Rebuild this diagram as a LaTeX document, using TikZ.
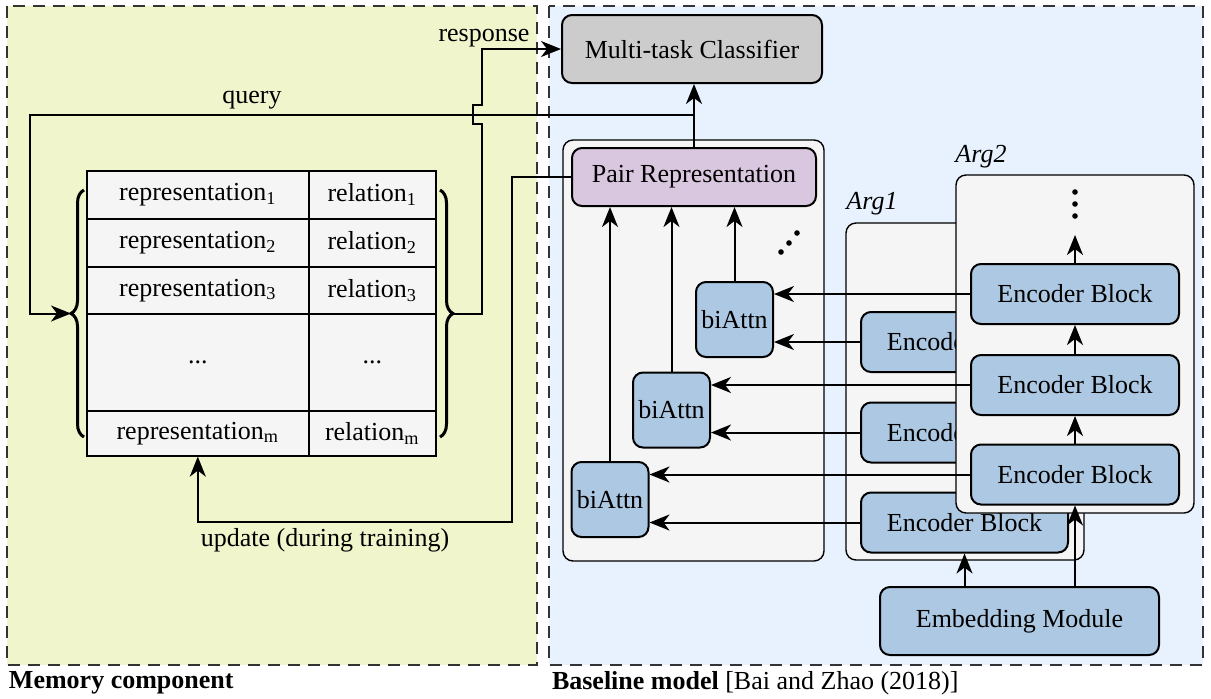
\documentclass[tikz,border=0pt]{standalone}
\usepackage{fontspec}
\setmainfont{Liberation Serif}
\usetikzlibrary{arrows.meta,decorations.pathreplacing}

\definecolor{memyellow}{RGB}{240,245,204}
\definecolor{baseblue}{RGB}{232,242,254}
\definecolor{contgray}{RGB}{245,245,245}
\definecolor{blkblue}{RGB}{173,200,226}
\definecolor{pairpurple}{RGB}{217,199,223}
\definecolor{clfgray}{RGB}{204,204,204}

\tikzset{every picture/.style={line width=1pt}}
\tikzset{
	panel/.style={draw=black!80, line width=0.6pt, dash pattern=on 6pt off 4pt},
	cont/.style={draw, line width=0.7pt, fill=contgray, rounded corners=5pt, inner sep=0pt},
	blk/.style={draw, line width=1pt, fill=blkblue, rounded corners=5pt, inner sep=0pt},
	cell/.style={draw, line width=0.8pt, fill=contgray, inner sep=0pt, anchor=north west},
	arr/.style={-{Stealth[length=10pt,width=8pt,inset=3pt]}, line width=1pt},
	brc/.style={decorate, decoration={brace,amplitude=6.5pt}, line width=1.5pt},
}

\begin{document}
\begin{tikzpicture}[x=0.5pt,y=0.5pt,yscale=-1,xscale=1,font=\fontsize{13}{15.6}\selectfont]
	\path[use as bounding box] (0,0) rectangle (1211,698);

	%Shape: Panels
	\draw[panel, fill=memyellow] (7,6) rectangle (537,665);
	\draw[panel, fill=baseblue] (549,6) rectangle (1203,665);

	%Shape: Classifier
	\node[blk, fill=clfgray, minimum width=130pt, minimum height=34pt] (clf) at (692,49) {Multi-task Classifier};

	%Shape: Pair side
	\node[cont, minimum width=130.5pt, minimum height=210.5pt] (pairbox) at (693.5,350.5) {};
	\node[blk, fill=pairpurple, minimum width=122pt, minimum height=29pt] (pair) at (694,177) {Pair Representation};
	\node[blk, minimum width=38.5pt, minimum height=37.5pt] (bat) at (734.5,319.5) {biAttn};
	\node[blk, minimum width=38.5pt, minimum height=37.5pt] (bam) at (671.5,410) {biAttn};
	\node[blk, minimum width=38.5pt, minimum height=37.5pt] (bab) at (610,499.5) {biAttn};

	%Shape: Arg1 encoder
	\node[cont, minimum width=119pt, minimum height=168.5pt] (argonebox) at (965,391.5) {};
	\node[font=\fontsize{13}{15.6}\selectfont\itshape] (argonelbl) at (872,204) {Arg1};
	\node[blk, minimum width=103.5pt, minimum height=30pt] (aoa) at (964.5,342) {Encoder Block};
	\node[blk, minimum width=103.5pt, minimum height=30pt] (aob) at (964.5,432.5) {Encoder Block};
	\node[blk, minimum width=103.5pt, minimum height=30pt] (aoc) at (964.5,522.5) {Encoder Block};

	%Shape: Arg2 encoder
	\node[cont, minimum width=119pt, minimum height=169pt] (argtwobox) at (1075,344) {};
	\node[font=\fontsize{13}{15.6}\selectfont\itshape] (argtwolbl) at (981,157) {Arg2};
	\node[blk, minimum width=104pt, minimum height=30pt] (ata) at (1075,474.5) {Encoder Block};
	\node[blk, minimum width=104pt, minimum height=30pt] (atb) at (1075,385) {Encoder Block};
	\node[blk, minimum width=104pt, minimum height=30pt] (atc) at (1075,294) {Encoder Block};

	%Shape: Embedding
	\node[blk, minimum width=139.5pt, minimum height=34pt] (emb) at (1019.5,621) {Embedding Module};

	%Shape: Memory table
	\node[cell, minimum width=111pt, minimum height=24pt] (ro) at (86,170) {representation\textsubscript{1}};
	\node[cell, minimum width=63.5pt, minimum height=24pt] (lo) at (308,170) {relation\textsubscript{1}};
	\node[cell, minimum width=111pt, minimum height=24pt] (rt) at (86,218) {representation\textsubscript{2}};
	\node[cell, minimum width=63.5pt, minimum height=24pt] (lt) at (308,218) {relation\textsubscript{2}};
	\node[cell, minimum width=111pt, minimum height=23.5pt] (rh) at (86,266) {representation\textsubscript{3}};
	\node[cell, minimum width=63.5pt, minimum height=23.5pt] (lh) at (308,266) {relation\textsubscript{3}};
	\node[cell, minimum width=111pt, minimum height=48.5pt] (rd) at (86,313) {...};
	\node[cell, minimum width=63.5pt, minimum height=48.5pt] (ld) at (308,313) {...};
	\node[cell, minimum width=111pt, minimum height=22.5pt] (rm) at (86,410) {representation\textsubscript{m}};
	\node[cell, minimum width=63.5pt, minimum height=22.5pt] (lm) at (308,410) {relation\textsubscript{m}};

	%Braces
	\draw[brc] (84,437) -- (84,190);
	\draw[brc] (440,190) -- (440,437);
	\coordinate (lbt) at (71,313.5);
	\coordinate (rbt) at (453,313.5);

	%Straight Lines: memory read / write
	\coordinate (qy) at (0,115);
	\coordinate (qj) at (pair.north |- qy);
	\draw[arr] (pair.north) -- (pair.north |- clf.south);
	\draw[arr] (qj) -- (30,115) |- (lbt);
	\draw[arr] (rbt) -- (482,313.5) -- (482,124) -- (473,124) -- (473,105) -- (482,105) |- (clf.west);
	\draw[arr] (pair.west) -| (512,522) -| (rm.south);

	%Straight Lines: biAttn to pair
	\draw[arr] (bat.north) -- (bat.north |- pair.south);
	\draw[arr] (bam.north) -- (bam.north |- pair.south);
	\draw[arr] (bab.north) -- (bab.north |- pair.south);

	%Straight Lines: encoders to biAttn
	\draw[arr] (atc.west) -- (atc.west -| bat.east);
	\draw[arr] (aoa.west) -- (aoa.west -| bat.east);
	\draw[arr] (atb.west) -- (atb.west -| bam.east);
	\draw[arr] (aob.west) -- (aob.west -| bam.east);
	\draw[arr] (ata.west) -- (ata.west -| bab.east);
	\draw[arr] (aoc.west) -- (aoc.west -| bab.east);

	%Straight Lines: encoder stack
	\draw[arr] (emb.north -| aoc.south) -- (aoc.south);
	\draw[arr] (emb.north -| ata.south) -- (ata.south);
	\draw[arr] (ata.north) -- (atb.south);
	\draw[arr] (atb.north) -- (atc.south);
	\coordinate (atop) at (1075,235);
	\draw[arr] (atc.north) -- (atop);

	%Dots
	\fill (1075,192) circle (1.4pt) (1075,204) circle (1.4pt) (1075,216) circle (1.4pt);
	\fill (781,252) circle (1.4pt) (789,243) circle (1.4pt) (797,233) circle (1.4pt);

	% Text Node
	\node (qlbl) at (252,100) {query};
	% Text Node
	\node (rlbl) at (484,38) {response};
	% Text Node
	\node (ulbl) at (325,540) {update (during training)};
	% Text Node
	\node[anchor=west, inner sep=0pt] (memlbl) at (8,683) {\textbf{Memory component}};
	% Text Node
	\node[anchor=west, inner sep=0pt] (baselbl) at (551,683) {\textbf{Baseline model} [Bai and Zhao (2018)]};

\end{tikzpicture}
\end{document}
